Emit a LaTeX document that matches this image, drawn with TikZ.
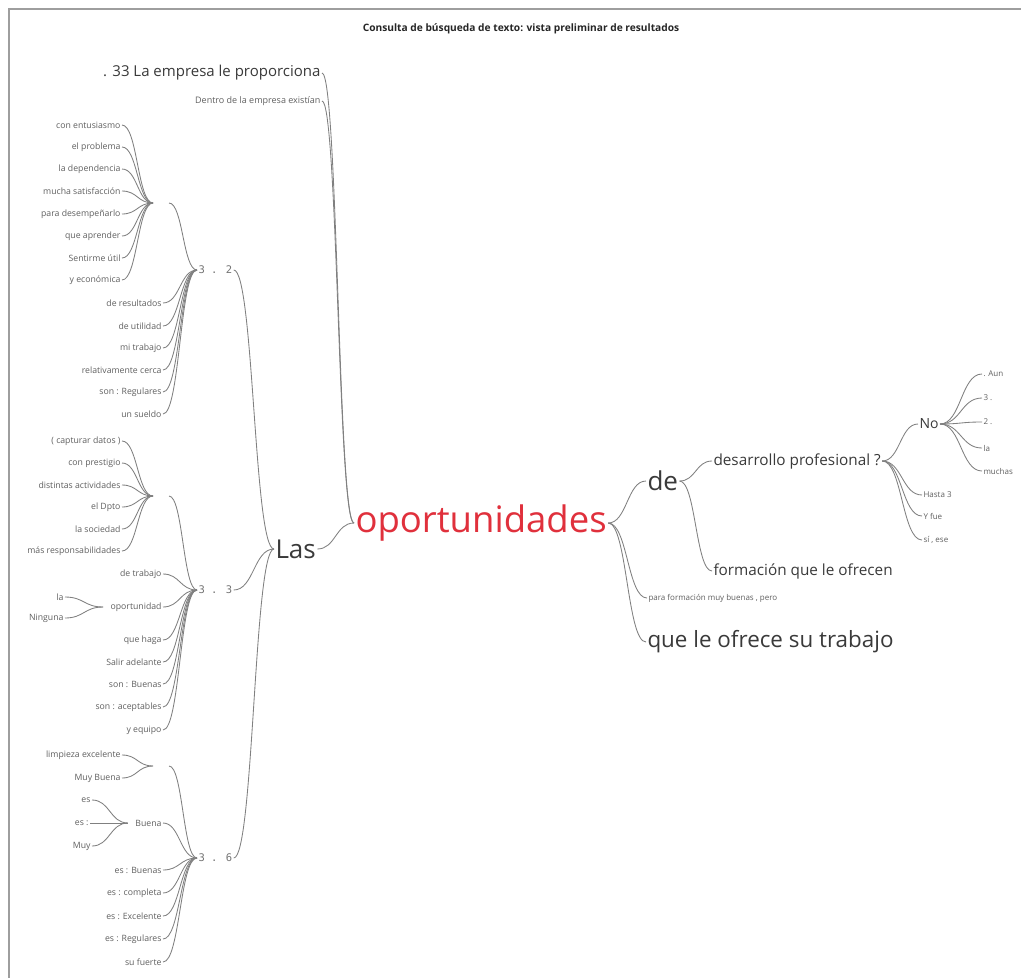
\documentclass[tikz,border=0pt]{standalone}
\usepackage{fontspec}
\setmainfont{Open Sans}
\newfontfamily\monof{DejaVu Sans Mono}
\usetikzlibrary{calc}
\definecolor{linec}{HTML}{808080}
\definecolor{txtc}{HTML}{3A3A3A}
\definecolor{leafc}{HTML}{606060}
\definecolor{redc}{HTML}{E0303C}
\newcommand\wl[2]{\draw[lnk] let \p1=#1, \p2=#2, \n1={0.5*(\x2-\x1)} in (\p1) .. controls +(\n1,0) and +(-\n1,0) .. (\p2);}
\begin{document}
\begin{tikzpicture}[x=1pt,y=-1pt,
  every node/.style={inner sep=1.5pt, outer sep=0pt, text=txtc},
  lnk/.style={draw=linec, line width=0.85pt},
  lf/.style={anchor=east, font=\fontsize{8.7}{10}\selectfont, text=leafc},
  rf/.style={anchor=west, font=\fontsize{8}{10}\selectfont, text=leafc},
  hub/.style={minimum width=16pt, inner sep=0pt},
  num/.style={anchor=west, font=\monof\fontsize{10.5}{12}\selectfont, text=black!55}]
\useasboundingbox (0,0) rectangle (1021,978);
\fill[white] (0,0) rectangle (1021,978);
\draw[black!38, line width=2.5pt] (9,978) -- (9,9) -- (1021,9);

\node[font=\bfseries\fontsize{10.2}{12}\selectfont, text=black!85] (title) at (521,29) {Consulta de búsqueda de texto: vista preliminar de resultados};

% group A
\node[lf] (a1) at (122,125) {con entusiasmo};
\node[lf] (a2) at (122,147) {el problema};
\node[lf] (a3) at (122,169) {la dependencia};
\node[lf] (a4) at (122,191) {mucha satisfacción};
\node[lf] (a5) at (122,214) {para desempeñarlo};
\node[lf] (a6) at (122,236) {que aprender};
\node[lf] (a7) at (122,258) {Sentirme útil};
\node[lf] (a8) at (122,280) {y económica};
\node[hub] (hA) at (161,203) {};
\node[num] (b32) at (197,270) {3 . 2};
\node[lf] (c1) at (163,303) {de resultados};
\node[lf] (c2) at (163,326) {de utilidad};
\node[lf] (c3) at (163,348) {mi trabajo};
\node[lf] (c4) at (163,370) {relativamente cerca};
\node[lf] (c5) at (163,392) {son : Regulares};
\node[lf] (c6) at (163,414) {un sueldo};

% group B
\node[lf] (d1) at (122,441) {( capturar datos )};
\node[lf] (d2) at (122,463) {con prestigio};
\node[lf] (d3) at (122,485) {distintas actividades};
\node[lf] (d4) at (122,507) {el Dpto};
\node[lf] (d5) at (122,529) {la sociedad};
\node[lf] (d6) at (122,551) {más responsabilidades};
\node[hub] (hB) at (161,496) {};
\node[num] (b33) at (197,590) {3 . 3};
\node[lf] (e1) at (163,574) {de trabajo};
\node[lf] (eopp) at (163,607) {oportunidad};
\node[lf] (e3) at (163,640) {que haga};
\node[lf] (e4) at (163,662) {Salir adelante};
\node[lf] (e5) at (163,684) {son : Buenas};
\node[lf] (e6) at (163,707) {son : aceptables};
\node[lf] (e7) at (163,730) {y equipo};
\node[lf] (la) at (65,597) {la};
\node[lf] (ning) at (65,618) {Ninguna};

% group C
\node[lf] (f1) at (122,755) {limpieza excelente};
\node[lf] (f2) at (122,778) {Muy Buena};
\node[hub] (hC) at (161,766) {};
\node[lf] (buena) at (163,823) {Buena};
\node[lf] (g1) at (92,800) {es};
\node[lf] (g2) at (90,823) {es :};
\node[lf] (g3) at (92,846) {Muy};
\node[num] (b36) at (197,858) {3 . 6};
\node[lf] (h1) at (163,870) {es : Buenas};
\node[lf] (h2) at (163,893) {es : completa};
\node[lf] (h3) at (163,916) {es : Excelente};
\node[lf] (h4) at (163,939) {es : Regulares};
\node[lf] (h5) at (163,962) {su fuerte};

% centre
\node[anchor=west, font=\fontsize{26}{29}\selectfont] (las) at (274,549) {Las};
\node[anchor=east, font=\fontsize{15}{17}\selectfont] (p33) at (322,73) {. 33 La empresa le proporciona};
\node[lf, anchor=east, font=\fontsize{9}{10}\selectfont] (dentro) at (322,101) {Dentro de la empresa existían};
\node[anchor=west, font=\fontsize{36.5}{42}\selectfont, text=redc] (op) at (354,523) {oportunidades};

% right
\node[anchor=west, font=\fontsize{26}{30}\selectfont] (de) at (646,481) {de};
\node[rf, font=\fontsize{8}{10}\selectfont] (para) at (647,598) {para formación muy buenas , pero};
\node[anchor=west, font=\fontsize{22.4}{26}\selectfont] (que) at (646,642) {que le ofrece su trabajo};
\node[anchor=west, font=\fontsize{15.3}{18}\selectfont] (des) at (712,461) {desarrollo profesional ?};
\node[anchor=west, font=\fontsize{15.3}{18}\selectfont] (form) at (712,571) {formación que le ofrecen};
\node[anchor=west, font=\fontsize{14}{16}\selectfont] (no) at (918,424) {No};
\node[rf] (n1) at (982,374) {. Aun};
\node[rf] (n2) at (982,398) {3 .};
\node[rf] (n3) at (982,422) {2 .};
\node[rf] (n4) at (982,448) {la};
\node[rf] (n5) at (982,471) {muchas};
\node[rf] (k1) at (922,495) {Hasta 3};
\node[rf] (k2) at (922,516) {Y fue};
\node[rf] (k3) at (922,540) {sí , ese};

% links
\foreach \v in {a1,a2,a3,a4,a5,a6,a7,a8} {\wl{(\v.east)}{(hA.west)}}
\wl{(hA.east)}{(b32.west)}
\foreach \v in {c1,c2,c3,c4,c5,c6} {\wl{(\v.east)}{(b32.west)}}
\foreach \v in {d1,d2,d3,d4,d5,d6} {\wl{(\v.east)}{(hB.west)}}
\wl{(hB.east)}{(b33.west)}
\foreach \v in {e1,eopp,e3,e4,e5,e6,e7} {\wl{(\v.east)}{(b33.west)}}
\foreach \v in {la,ning} {\wl{(\v.east)}{([xshift=-6pt]eopp.west)}}
\foreach \v in {f1,f2} {\wl{(\v.east)}{(hC.west)}}
\wl{(hC.east)}{(b36.west)}
\wl{(buena.east)}{(b36.west)}
\foreach \v in {g1,g2,g3} {\wl{(\v.east)}{([xshift=-6pt]buena.west)}}
\foreach \v in {h1,h2,h3,h4,h5} {\wl{(\v.east)}{(b36.west)}}
\foreach \v in {b32,b33,b36} {\wl{(\v.east)}{(las.west)}}
\wl{(las.east)}{(op.west)}
\wl{(p33.east)}{(op.west)}
\wl{(dentro.east)}{(op.west)}
\foreach \v in {de,para,que} {\wl{(op.east)}{(\v.west)}}
\foreach \v in {des,form} {\wl{(de.east)}{(\v.west)}}
\foreach \v in {no,k1,k2,k3} {\wl{(des.east)}{(\v.west)}}
\foreach \v in {n1,n2,n3,n4,n5} {\wl{(no.east)}{(\v.west)}}
\end{tikzpicture}
\end{document}
